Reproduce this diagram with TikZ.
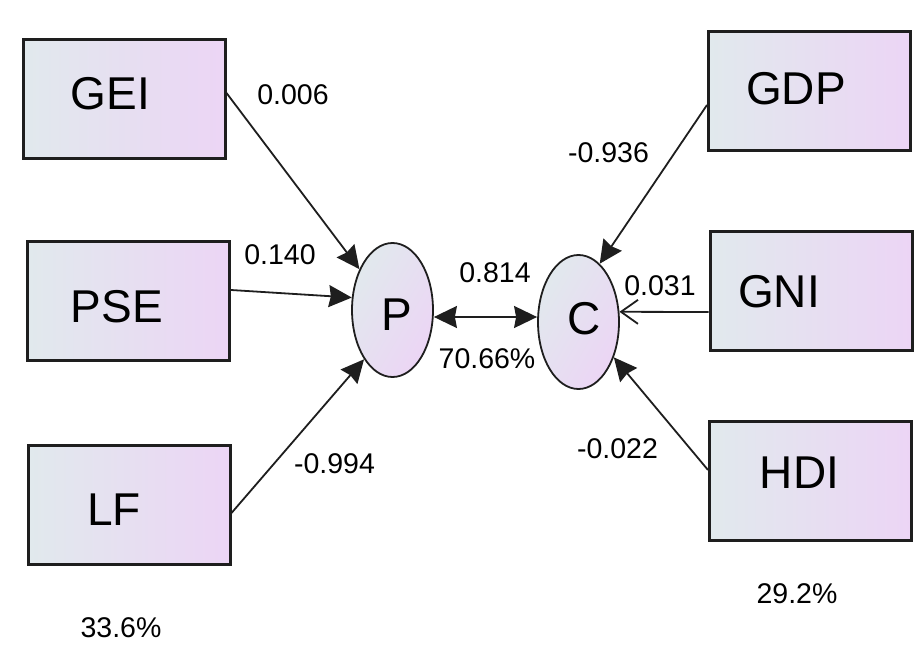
\documentclass[tikz,border=0pt]{standalone}
\usepackage{fontspec}
\setmainfont{Liberation Sans}
\usetikzlibrary{shapes.geometric,arrows.meta,calc}
\definecolor{shadeL}{RGB}{225,233,237}
\definecolor{shadeR}{RGB}{236,213,245}
\definecolor{edge}{RGB}{30,30,30}

\begin{document}
\begin{tikzpicture}[x=1pt,y=-1pt,
  manifest/.style={rectangle, draw=edge, line width=3pt,
    left color=shadeL, right color=shadeR,
    minimum width=202pt, minimum height=119pt, inner sep=0pt},
  latent/.style={ellipse, draw=edge, line width=1.8pt,
    left color=shadeL, right color=shadeR, shading angle=60,
    minimum width=81pt, minimum height=134pt, inner sep=0pt},
  varname/.style={font=\fontsize{46}{46}\selectfont, anchor=base, inner sep=0pt},
  coef/.style={font=\fontsize{28.5}{28.5}\selectfont, anchor=base, inner sep=0pt},
  effect/.style={line width=1.8pt, draw=edge,
    arrows={-Stealth[length=23pt,width=22pt,inset=2pt]}},
  openeffect/.style={line width=1.8pt, draw=edge,
    arrows={-Straight Barb[length=17pt,width=24pt]}},
  corr/.style={line width=1.8pt, draw=edge,
    arrows={Stealth[length=23pt,width=22pt,inset=2pt]-Stealth[length=23pt,width=22pt,inset=2pt]}}
]
\useasboundingbox (0,0) rectangle (921,650);

% indicator boxes, left block
\node[manifest] (gei) at (124,99) {};
\node[manifest] (pse) at (128.5,300.5) {};
\node[manifest] (lf)  at (129,505) {};
% indicator boxes, right block
\node[manifest] (gdp) at (809.5,91.5) {};
\node[manifest] (gni) at (811,290.5) {};
\node[manifest] (hdi) at (810.5,480.5) {};

% latent constructs
\node[latent] (p) at (392.5,310) {};
\node[latent] (c) at (578.5,322) {};

% box captions
\node[varname] (tgei) at (110.5,110) {GEI};
\node[varname] (tpse) at (117,322) {PSE};
\node[varname] (tlf)  at (114,525) {LF};
\node[varname] (tgdp) at (796,105) {GDP};
\node[varname] (tgni) at (779,307) {GNI};
\node[varname] (thdi) at (799.5,488) {HDI};
\node[varname] (tp) at (396.5,330) {P};
\node[varname] (tc) at (584,334) {C};

% structural paths
\draw[effect] ($(gei.east)+(0,-6)$) -- (p.129);
\draw[effect] ($(pse.east)+(0,-10.5)$) -- (p.163);
\draw[effect] ($(lf.east)+(0,8)$) -- (p.240);
\draw[effect] ($(gdp.west)+(0,13.5)$) -- (c.70);
\draw[openeffect] ($(gni.west)+(0,21.5)$) -- (c.14);
\draw[effect] ($(hdi.west)+(0,-10.5)$) -- (c.-45);
\draw[corr] ($(p.east)+(0,7)$) -- ($(c.west)+(0,-5)$);

% path coefficients
\node[coef] (k1) at (293,105) {0.006};
\node[coef] (k2) at (280,264) {0.140};
\node[coef] (k3) at (334.5,473) {-0.994};
\node[coef] (k4) at (608.5,163) {-0.936};
\node[coef] (k5) at (660,295) {0.031};
\node[coef] (k6) at (617.5,458) {-0.022};
\node[coef] (k7) at (495,282) {0.814};
\node[coef] (k8) at (487,368) {70.66\%};
\node[coef] (r1) at (121,637) {33.6\%};
\node[coef] (r2) at (797,603) {29.2\%};
\end{tikzpicture}
\end{document}
